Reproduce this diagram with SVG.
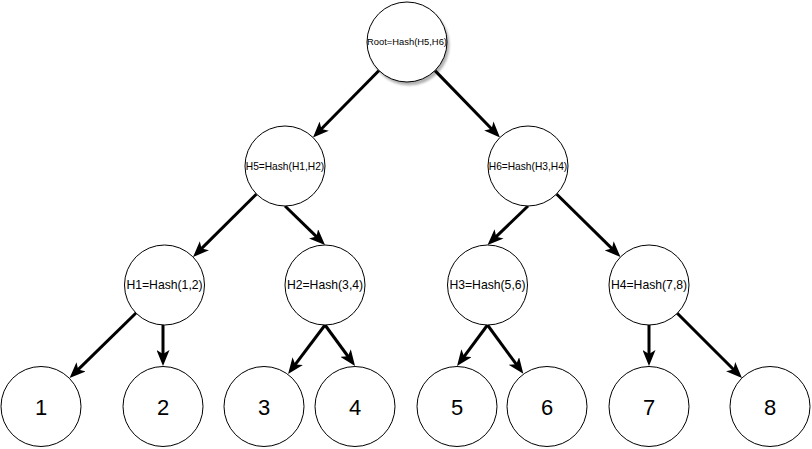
<svg xmlns="http://www.w3.org/2000/svg" width="812" height="449" viewBox="0 0 812 449">
<style>
.node circle{fill:#fff;stroke:#000;stroke-width:1}
.node text{font-family:"Liberation Sans",Arial,sans-serif;fill:#000;text-anchor:middle}
.s{font-size:9.4px}.m{font-size:10.2px}.l{font-size:12.2px}.d{font-size:22px}
.edges line{stroke:#000;stroke-width:3;marker-end:url(#arr)}
</style>
<defs>
<marker id="arr" markerUnits="userSpaceOnUse" markerWidth="16" markerHeight="13" refX="8" refY="6.5" orient="auto">
<path d="M0,0 L16,6.5 L0,13 L4,6.5 Z" fill="#000"/>
</marker>
<filter id="sh" x="-20%" y="-20%" width="150%" height="150%">
<feDropShadow dx="2" dy="3" stdDeviation="1.2" flood-color="#000" flood-opacity="0.3"/>
</filter>
</defs>
<rect width="812" height="449" fill="#fff"/>
<g class="edges">
<line x1="379" y1="70.5" x2="318.6" y2="131.8"/>
<line x1="435" y1="70.6" x2="494.4" y2="131.7"/>
<line x1="256.5" y1="194" x2="198.7" y2="251.4"/>
<line x1="285" y1="206" x2="319.3" y2="239.4"/>
<line x1="528" y1="206" x2="493.3" y2="239.4"/>
<line x1="556.5" y1="194" x2="614.8" y2="251.4"/>
<line x1="136" y1="313" x2="75.3" y2="372.4"/>
<line x1="163" y1="325" x2="163" y2="358"/>
<line x1="325" y1="325" x2="292.9" y2="367.6"/>
<line x1="325" y1="325" x2="350.3" y2="359.5"/>
<line x1="487.5" y1="325" x2="461.8" y2="359.6"/>
<line x1="487.5" y1="325" x2="518.6" y2="367.4"/>
<line x1="649" y1="325" x2="649" y2="358"/>
<line x1="677" y1="313" x2="736.3" y2="372.3"/>
</g>
<g id="root" class="node"><circle cx="407" cy="42" r="40" filter="url(#sh)"/><text class="s" x="407" y="45.3">Root=Hash(H5,H6)</text></g>
<g id="h5" class="node"><circle cx="285" cy="166" r="40"/><text class="m" x="285" y="169.6">H5=Hash(H1,H2)</text></g>
<g id="h6" class="node"><circle cx="528" cy="166" r="40"/><text class="m" x="528" y="169.6">H6=Hash(H3,H4)</text></g>
<g id="h1" class="node"><circle cx="164.5" cy="285" r="40"/><text class="l" x="164.5" y="289.3">H1=Hash(1,2)</text></g>
<g id="h2" class="node"><circle cx="325" cy="285" r="40"/><text class="l" x="325" y="289.3">H2=Hash(3,4)</text></g>
<g id="h3" class="node"><circle cx="487.5" cy="285" r="40"/><text class="l" x="487.5" y="289.3">H3=Hash(5,6)</text></g>
<g id="h4" class="node"><circle cx="649" cy="285" r="40"/><text class="l" x="649" y="289.3">H4=Hash(7,8)</text></g>
<g id="n1" class="node"><circle cx="41" cy="406.5" r="40"/><text class="d" x="41" y="414.5">1</text></g>
<g id="n2" class="node"><circle cx="163" cy="406.5" r="40"/><text class="d" x="163" y="414.5">2</text></g>
<g id="n3" class="node"><circle cx="264" cy="406.5" r="40"/><text class="d" x="264" y="414.5">3</text></g>
<g id="n4" class="node"><circle cx="355" cy="406.5" r="40"/><text class="d" x="355" y="414.5">4</text></g>
<g id="n5" class="node"><circle cx="457" cy="406.5" r="40"/><text class="d" x="457" y="414.5">5</text></g>
<g id="n6" class="node"><circle cx="547" cy="406.5" r="40"/><text class="d" x="547" y="414.5">6</text></g>
<g id="n7" class="node"><circle cx="649" cy="406.5" r="40"/><text class="d" x="649" y="414.5">7</text></g>
<g id="n8" class="node"><circle cx="770" cy="406.5" r="40"/><text class="d" x="770" y="414.5">8</text></g>
</svg>
